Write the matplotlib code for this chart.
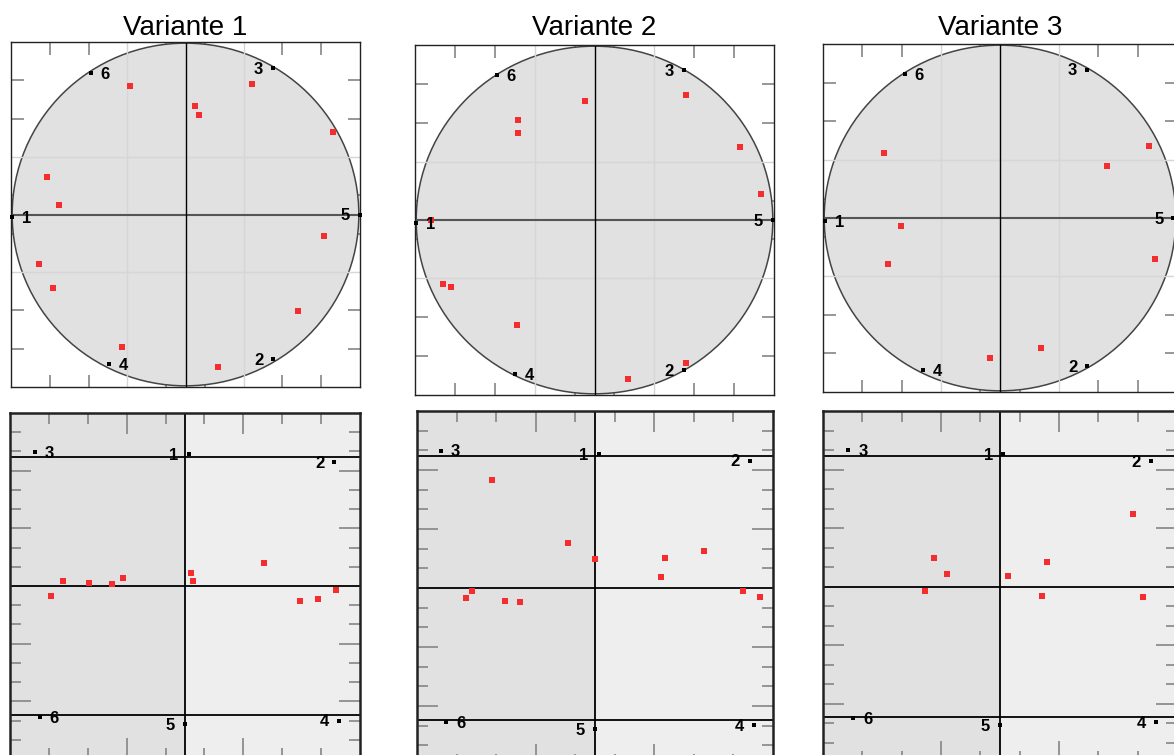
# Six panels: circle projections (top) and square projections (bottom) for three variants

import numpy as np
import matplotlib.pyplot as plt
from matplotlib.patches import Circle

plt.rcParams['font.family'] = ['Liberation Sans', 'DejaVu Sans']

titles = ["Variante 1", "Variante 2", "Variante 3"]
point_labels = ["1", "2", "3", "4", "5", "6"]

# black reference points on the circle, order 1..6
circ_black_x = [[-4.47, 2.26, 2.26, -1.97, 4.49, -2.44],
                [-4.47, 2.24, 2.24, -1.99, 4.47, -2.45],
                [-4.45, 2.22, 2.22, -1.97, 4.41, -2.42]]
circ_black_y = [[-0.06, -3.78, 3.82, -3.91, 0.0, 3.69],
                [-0.07, -3.85, 3.86, -3.96, 0.0, 3.72],
                [-0.07, -3.83, 3.84, -3.94, 0.0, 3.72]]

# red points inside the circle
circ_red_x = [[-1.44, 1.72, 0.24, 0.36, 3.81, -3.56, -3.27, 3.58, -3.78, -3.41, 2.91, -1.65, 0.84],
              [-0.24, 2.29, -1.92, -1.92, 3.66, 4.18, -4.10, -3.80, -3.61, -1.94, 2.30, 0.83],
              [-2.94, 3.78, 2.72, -2.52, -2.86, 3.94, 1.05, -0.26]]
circ_red_y = [[3.36, 3.41, 2.84, 2.59, 2.14, 0.98, 0.25, -0.56, -1.29, -1.91, -2.53, -3.46, -3.97],
              [3.06, 3.22, 2.56, 2.24, 1.88, 0.67, 0.0, -1.65, -1.73, -2.69, -3.69, -4.09],
              [1.67, 1.86, 1.34, -0.21, -1.20, -1.06, -3.36, -3.63]]

# black reference points in the square panels, order 1..6
sq_black_x = [[0.09, 3.84, -3.86, 3.96, 0.0, -3.74],
              [0.09, 3.91, -3.90, 4.03, 0.0, -3.76],
              [0.07, 3.84, -3.86, 3.97, 0.0, -3.73]]
sq_black_y = [[6.85, 6.46, 6.98, -7.00, -7.18, -6.83],
              [6.82, 6.48, 6.99, -6.99, -7.16, -6.80],
              [6.77, 6.43, 6.98, -6.94, -7.11, -6.76]]

# red points in the square panels
sq_red_x = [[-3.13, -2.48, -1.89, -1.60, -3.45, 0.15, 0.21, 2.02, 2.96, 3.41, 3.89],
            [-2.60, -0.67, 0.0, 1.76, 2.75, 1.68, -3.10, -3.26, -2.27, -1.89, 3.75, 4.17],
            [3.38, -1.69, 1.20, -1.36, 0.21, -1.90, 1.06, 3.64]]
sq_red_y = [[0.26, 0.16, 0.10, 0.40, -0.50, 0.68, 0.26, 1.20, -0.76, -0.66, -0.19],
            [5.50, 2.27, 1.47, 1.52, 1.90, 0.56, -0.14, -0.49, -0.66, -0.71, -0.14, -0.44],
            [3.74, 1.45, 1.24, 0.63, 0.54, -0.24, -0.51, -0.54]]

sq_hlines = [6.7, 0.0, -6.7]

# label side for each point: +1 right, -1 left
circ_side = [1, -1, -1, 1, -1, 1]
sq_side = [-1, -1, 1, -1, -1, 1]

W, H = 1174, 755
fig = plt.figure(figsize=(W / 100, H / 100), dpi=100)


def add_px_axes(x0, y0, x1, y1):
    return fig.add_axes([x0 / W, (H - y1) / H, (x1 - x0) / W, (y1 - y0) / H])


top_boxes = [(11, 42, 360, 387), (415, 45, 774, 395), (823, 44, 1177, 392)]
bot_boxes = [(10, 413, 360, 759), (417, 411, 773, 765), (823, 411, 1177, 762)]

red = '#f42d2d'
tick_col = '#858585'

for i in range(3):
    # --- circle panel ---
    ax = add_px_axes(*top_boxes[i])
    ax.set_xlim(-4.5, 4.5)
    ax.set_ylim(-4.5, 4.5)
    ax.set_axisbelow(True)
    ax.add_patch(Circle((0, 0), 4.47, facecolor='#e1e1e1', edgecolor='#444444', lw=1.1, zorder=1))
    for g in (-1.5, 1.5):
        ax.axvline(g, color='#d6d6d6', lw=1.0, zorder=1.5)
        ax.axhline(g, color='#d6d6d6', lw=1.0, zorder=1.5)
    ax.axhline(0, color='#555555', lw=1.5, zorder=2)
    ax.plot([0, 0], [-4.47, 4.47], color='black', lw=1.0, zorder=2)
    ticks = [-3.5, -2.5, -0.5, 0.5, 2.5, 3.5]
    ax.set_xticks(ticks)
    ax.set_yticks(ticks)
    ax.tick_params(direction='in', length=9, width=1.2, color=tick_col,
                   top=True, right=True, labelbottom=False, labelleft=False)
    for s in ax.spines.values():
        s.set_color('#222222')
        s.set_linewidth(1.0)
    ax.plot(circ_red_x[i], circ_red_y[i], 's', ms=3.9, color=red, mew=0, zorder=3)
    ax.plot(circ_black_x[i], circ_black_y[i], 's', ms=3.0, color='black', mew=0, zorder=3, clip_on=False)
    for k, lab in enumerate(point_labels):
        ax.annotate(lab, (circ_black_x[i][k], circ_black_y[i][k]),
                    xytext=(circ_side[k] * 10.5, -1), textcoords='offset points',
                    ha='center', va='center', fontsize=12, fontweight='bold', zorder=4)
    fig.text((top_boxes[i][0] + top_boxes[i][2]) / 2 / W, (H - 35) / H, titles[i],
             ha='center', va='baseline', fontsize=20)

    # --- square panel ---
    ax = add_px_axes(*bot_boxes[i])
    ax.set_xlim(-4.5, 4.5)
    ax.set_ylim(-9, 9)
    ax.axvspan(-4.5, 0, color='#e1e1e1', lw=0, zorder=0)
    ax.axvspan(0, 4.5, color='#eeeeee', lw=0, zorder=0)
    for h in sq_hlines:
        ax.axhline(h, color='black', lw=1.3, zorder=2)
    ax.axvline(0, color='black', lw=1.3, zorder=2)
    ax.set_xticks([-3.5, -2.5, -0.5, 0.5, 2.5, 3.5])
    ax.set_xticks([-1.5, 1.5], minor=True)
    ax.set_yticks([-8, -7, -5, -4, -2, -1, 1, 2, 4, 5, 7, 8])
    ax.set_yticks([-6, -3, 3, 6], minor=True)
    ax.tick_params(which='major', direction='in', length=8, width=1.2, color=tick_col,
                   top=True, right=True, labelbottom=False, labelleft=False)
    ax.tick_params(which='minor', direction='in', length=15, width=1.2, color=tick_col,
                   top=True, right=True, labelbottom=False, labelleft=False)
    for s in ax.spines.values():
        s.set_color('#222222')
        s.set_linewidth(1.8)
    ax.plot(sq_red_x[i], sq_red_y[i], 's', ms=3.9, color=red, mew=0, zorder=3)
    ax.plot(sq_black_x[i], sq_black_y[i], 's', ms=3.0, color='black', mew=0, zorder=3)
    for k, lab in enumerate(point_labels):
        ax.annotate(lab, (sq_black_x[i][k], sq_black_y[i][k]),
                    xytext=(sq_side[k] * 10.5, -1), textcoords='offset points',
                    ha='center', va='center', fontsize=12, fontweight='bold', zorder=4)

fig.savefig('out.png', dpi=100)
